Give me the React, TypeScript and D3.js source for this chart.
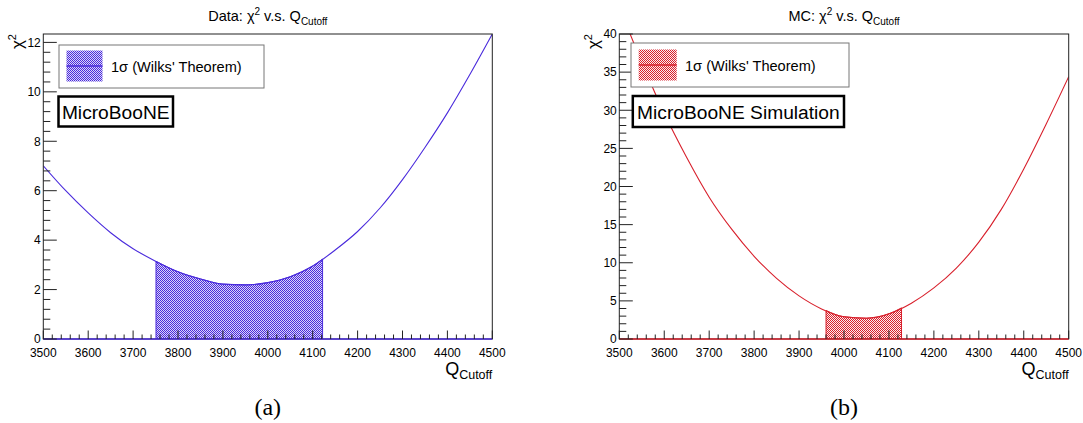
import React from "react";
import * as d3 from "d3";

// ---- data ----
const qCutoff = [3500, 3550, 3600, 3650, 3700, 3750, 3800, 3850, 3900, 3950, 4000, 4050, 4100, 4150, 4200, 4250, 4300, 4350, 4400, 4450, 4500];
const chi2Data = [7.01, 6.0, 5.1, 4.3, 3.65, 3.15, 2.72, 2.43, 2.22, 2.19, 2.28, 2.52, 2.95, 3.6, 4.35, 5.3, 6.45, 7.75, 9.15, 10.7, 12.34];
const chi2MC = [43.5, 36.3, 29.6, 23.8, 18.6, 14.4, 10.85, 7.95, 5.65, 3.95, 2.92, 2.73, 3.3, 4.7, 6.7, 9.3, 12.7, 17.0, 22.3, 28.2, 34.4];
const sigmaData = [3751, 4122];
const sigmaMC = [3960, 4128];
const xTickValues = [3500, 3600, 3700, 3800, 3900, 4000, 4100, 4200, 4300, 4400, 4500];
const yTicksData = [0, 2, 4, 6, 8, 10, 12];
const yTicksMC = [0, 5, 10, 15, 20, 25, 30, 35, 40];
const legendLabel = "1σ (Wilks' Theorem)";

const FONT = "'Liberation Sans', Arial, Helvetica, sans-serif";

type PanelProps = {
  id: string;
  chi: number[];
  sigma: number[];
  yMax: number;
  yTicks: number[];
  color: string;
  bgOpacity: number;
  titlePrefix: string;
  x0: number;
  x1: number;
  legend: { x: number; y: number; w: number; h: number; sx: number; sy: number; sw: number; sh: number; tx: number; ty: number };
  brand: { x: number; y: number; w: number; h: number; text: string };
  caption: string;
};

function interp(q: number[], v: number[], x: number) {
  for (let i = 0; i < q.length - 1; i++) {
    if (x >= q[i] && x <= q[i + 1]) {
      const t = (x - q[i]) / (q[i + 1] - q[i]);
      return v[i] + t * (v[i + 1] - v[i]);
    }
  }
  return v[v.length - 1];
}

function Panel(p: PanelProps) {
  const yTop = 34;
  const yBot = 339;
  const x = d3.scaleLinear().domain([3500, 4500]).range([p.x0, p.x1]);
  const y = d3.scaleLinear().domain([0, p.yMax]).range([yBot, yTop]);
  const pts: [number, number][] = qCutoff.map((q, i) => [q, p.chi[i]]);
  const line = d3
    .line<[number, number]>()
    .x((d) => x(d[0]))
    .y((d) => y(d[1]))
    .curve(d3.curveMonotoneX);
  const shadePts: [number, number][] = [
    [p.sigma[0], interp(qCutoff, p.chi, p.sigma[0])],
    ...pts.filter((d) => d[0] > p.sigma[0] && d[0] < p.sigma[1]),
    [p.sigma[1], interp(qCutoff, p.chi, p.sigma[1])],
  ];
  const area = d3
    .area<[number, number]>()
    .x((d) => x(d[0]))
    .y0(y(0))
    .y1((d) => y(d[1]))
    .curve(d3.curveMonotoneX);
  const minorX = d3.range(3500, 4500.01, 20);
  const yStep = p.yTicks[1] - p.yTicks[0];
  const minorY = d3.range(0, p.yMax + 1e-6, yStep / 5);
  const cx = (p.x0 + p.x1) / 2;
  const L = p.legend;
  const B = p.brand;
  return (
    <g>
      <defs>
        <pattern id={p.id} width={2} height={2} patternUnits="userSpaceOnUse">
          <rect width={2} height={2} fill="#fff" />
          <rect width={2} height={2} fill={p.color} opacity={p.bgOpacity} />
          <rect x={0} y={0} width={1} height={1} fill={p.color} />
          <rect x={1} y={1} width={1} height={1} fill={p.color} />
        </pattern>
        <clipPath id={p.id + "-clip"}>
          <rect x={p.x0} y={yTop} width={p.x1 - p.x0} height={yBot - yTop} />
        </clipPath>
      </defs>
      {/* title */}
      <text x={cx} y={21} textAnchor="middle" fontFamily={FONT} fontSize={14.5} fill="#000">
        {p.titlePrefix}χ<tspan fontSize={10} dy={-6}>2</tspan>
        <tspan dy={6}> v.s. Q</tspan>
        <tspan fontSize={10} dy={4}>Cutoff</tspan>
      </text>
      {/* shading & curve */}
      <g clipPath={`url(#${p.id}-clip)`}>
        <path d={area(shadePts) || ""} fill={`url(#${p.id})`} stroke={p.color} strokeWidth={1} />
        <path d={line(pts) || ""} fill="none" stroke={p.color} strokeWidth={1.1} />
      </g>
      {/* frame */}
      <rect x={p.x0} y={yTop} width={p.x1 - p.x0} height={yBot - yTop} fill="none" stroke="#222" strokeWidth={1} />
      <line x1={p.x0} x2={p.x1} y1={y(0)} y2={y(0)} stroke={p.color} strokeWidth={1.6} />
      {/* x ticks */}
      {minorX.map((v) => {
        const major = xTickValues.includes(Math.round(v));
        return (
          <line key={"mx" + v} x1={x(v)} x2={x(v)} y1={yBot} y2={yBot - (major ? 8.5 : 4.5)} stroke="#222" strokeWidth={1} />
        );
      })}
      {xTickValues.map((v) => (
        <text key={"xl" + v} x={x(v)} y={356.5} textAnchor="middle" fontFamily={FONT} fontSize={12} fill="#000">
          {v}
        </text>
      ))}
      {/* y ticks */}
      {minorY.map((v, i) => {
        const major = i % 5 === 0;
        return (
          <line key={"my" + i} x1={p.x0} x2={p.x0 + (major ? 13.5 : 7)} y1={y(v)} y2={y(v)} stroke="#222" strokeWidth={1} />
        );
      })}
      {p.yTicks.map((v) => (
        <text key={"yl" + v} x={p.x0 - 2.5} y={y(v) + 4.3} textAnchor="end" fontFamily={FONT} fontSize={12} fill="#000">
          {v}
        </text>
      ))}
      {/* axis titles */}
      <text
        transform={`translate(${p.x0 - 20},${yTop}) rotate(-90)`}
        textAnchor="end"
        fontFamily={FONT}
        fontSize={17}
        fill="#000"
      >
        χ<tspan fontSize={11} dy={-7}>2</tspan>
      </text>
      <text x={p.x1} y={375} textAnchor="end" fontFamily={FONT} fontSize={18} fill="#000">
        Q<tspan fontSize={12.5} dy={4}>Cutoff</tspan>
      </text>
      {/* legend */}
      <rect x={L.x} y={L.y} width={L.w} height={L.h} fill="#fff" stroke="#777" strokeWidth={1} />
      <rect x={L.sx} y={L.sy} width={L.sw} height={L.sh} fill={`url(#${p.id})`} />
      <line x1={L.sx} x2={L.sx + L.sw} y1={L.sy + L.sh / 2} y2={L.sy + L.sh / 2} stroke={p.color} strokeWidth={1.5} />
      <text x={L.tx} y={L.ty} fontFamily={FONT} fontSize={14.6} fill="#000">
        {legendLabel}
      </text>
      {/* brand box */}
      <rect x={B.x} y={B.y} width={B.w} height={B.h} fill="#fff" stroke="#000" strokeWidth={2.5} />
      <text x={B.x + B.w / 2} y={B.y + 22.5} textAnchor="middle" fontFamily={FONT} fontSize={19.2} fill="#000">
        {B.text}
      </text>
      {/* caption */}
      <text x={cx} y={415} textAnchor="middle" fontFamily="'Liberation Serif', 'Times New Roman', serif" fontSize={24} fill="#000">
        {p.caption}
      </text>
    </g>
  );
}

export default function App() {
  return (
    <svg
      width={1083}
      height={423}
      viewBox="0 0 1083 423"
      style={{ position: "absolute", left: 0, top: 0, background: "#fff" }}
    >
      <rect width={1083} height={423} fill="#fff" />
      <Panel
        id="pdata"
        chi={chi2Data}
        sigma={sigmaData}
        yMax={12.34}
        yTicks={yTicksData}
        color="#4a2bdc"
        bgOpacity={0.2}
        titlePrefix="Data: "
        x0={43.3}
        x1={492.3}
        legend={{ x: 59, y: 45, w: 205, h: 43, sx: 66.5, sy: 50.5, sw: 36, sh: 31, tx: 111, ty: 71.5 }}
        brand={{ x: 58.5, y: 96.5, w: 114.5, h: 30, text: "MicroBooNE" }}
        caption="(a)"
      />
      <Panel
        id="pmc"
        chi={chi2MC}
        sigma={sigmaMC}
        yMax={40}
        yTicks={yTicksMC}
        color="#d8202c"
        bgOpacity={0.08}
        titlePrefix="MC: "
        x0={619.3}
        x1={1068.7}
        legend={{ x: 631, y: 43, w: 218, h: 44, sx: 638.7, sy: 49.5, sw: 38, sh: 31, tx: 685, ty: 70.5 }}
        brand={{ x: 632.8, y: 96, w: 211.2, h: 31, text: "MicroBooNE Simulation" }}
        caption="(b)"
      />
    </svg>
  );
}
